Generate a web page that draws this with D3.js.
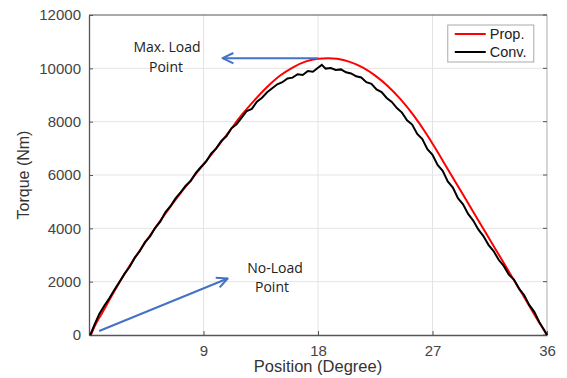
<!DOCTYPE html>
<html>
<head>
<meta charset="utf-8">
<script src="https://cdn.jsdelivr.net/npm/d3@7"></script>
<style>
  body { margin: 0; background: #fff; }
  text { font-family: "Liberation Sans", Arial, sans-serif; }
</style>
</head>
<body>
<div id="chart"></div>
<script>
// data
var xTicks = [9, 18, 27, 36];
var yTicks = [0, 2000, 4000, 6000, 8000, 10000, 12000];

var propDeg = [0.15, 0.5, 1, 2, 3, 4, 5, 6, 7, 8, 9, 10, 11, 12, 13, 14, 15, 16, 17, 18, 18.8,
  19.5, 20.5, 21.5, 22.5, 23.5, 24.5, 25.5, 26.5, 27.2, 28.25, 29.5, 30.5, 31.5, 32.5, 33.5, 34.5, 35.5, 36];
var propVal = [0, 380, 800, 1650, 2450, 3180, 3870, 4550, 5200, 5800, 6400, 7000, 7620, 8250, 8800, 9300, 9720, 10030, 10250, 10360, 10380,
  10357, 10242, 10033, 9728, 9329, 8833, 8243, 7558, 7021, 6181, 5181, 4381, 3581, 2781, 1981, 1181, 381, 0];

var convDeg = [0.1, 0.4, 0.8, 1.2, 1.6, 2.0, 2.4, 2.8, 3.2, 3.6, 4.0, 4.4, 4.8, 5.2, 5.6, 6.0, 6.4, 6.8, 7.2, 7.6,
  8.0, 8.4, 8.8, 9.2, 9.6, 10.0, 10.4, 10.8, 11.2, 11.6, 12.0, 12.4, 12.8, 13.2, 13.6, 14.0, 14.4, 14.8, 15.2, 15.6,
  16.0, 16.4, 16.8, 17.2, 17.6, 18.0, 18.3, 18.6, 19.0, 19.4, 19.8, 20.2, 20.6, 21.0, 21.4, 21.8, 22.2, 22.6, 23.0, 23.4,
  23.8, 24.2, 24.6, 25.0, 25.4, 25.8, 26.2, 26.6, 27.0, 27.4, 27.8, 28.2, 28.6, 29.0, 29.4, 29.8, 30.2, 30.6, 31.0, 31.4,
  31.8, 32.2, 32.6, 33.0, 33.4, 33.8, 34.2, 34.6, 35.0, 35.4, 35.8, 36.0];
var convVal = [0, 350, 780, 1100, 1380, 1700, 2000, 2300, 2560, 2900, 3150, 3480, 3700, 4020, 4250, 4600, 4830, 5120, 5350, 5600,
  5780, 6080, 6300, 6500, 6800, 7000, 7280, 7450, 7750, 7900, 8150, 8400, 8480, 8750, 8900, 9100, 9250, 9400, 9480, 9620,
  9650, 9780, 9750, 9900, 9870, 10020, 10130, 9990, 10010, 9940, 9960, 9850, 9810, 9700, 9660, 9480, 9420, 9210, 9110, 8890,
  8740, 8510, 8340, 8050, 7890, 7540, 7350, 6970, 6760, 6380, 6160, 5760, 5530, 5130, 4900, 4540, 4290, 3960, 3710, 3380,
  3150, 2820, 2590, 2260, 2080, 1740, 1500, 1130, 870, 480, 170, 0];

var width = 567, height = 378;
var margin = { top: 15, right: 20, bottom: 43, left: 89 };
var w = width - margin.left - margin.right;
var h = height - margin.top - margin.bottom;

var svg = d3.select('#chart').append('svg')
  .attr('width', width)
  .attr('height', height);

var g = svg.append('g').attr('transform', 'translate(' + margin.left + ',' + margin.top + ')');

var x = d3.scaleLinear().domain([0, 36]).range([0, w]);
var y = d3.scaleLinear().domain([0, 12000]).range([h, 0]);

// grid
g.selectAll('.gx').data(xTicks.slice(0, 3)).join('line')
  .attr('x1', d => x(d)).attr('x2', d => x(d))
  .attr('y1', 0).attr('y2', h)
  .attr('stroke', '#e4e4e4').attr('stroke-width', 1);
g.selectAll('.gy').data(yTicks.slice(1, 6)).join('line')
  .attr('x1', 0).attr('x2', w)
  .attr('y1', d => y(d)).attr('y2', d => y(d))
  .attr('stroke', '#e4e4e4').attr('stroke-width', 1);

// box: top and right
g.append('line').attr('x1', 0).attr('x2', w).attr('y1', 0).attr('y2', 0)
  .attr('stroke', '#555').attr('stroke-width', 1.2);
g.append('line').attr('x1', w).attr('x2', w).attr('y1', 0).attr('y2', h)
  .attr('stroke', '#bbb').attr('stroke-width', 1.2);
g.selectAll('.rt').data(yTicks).join('line')
  .attr('x1', w - 4).attr('x2', w)
  .attr('y1', d => y(d)).attr('y2', d => y(d))
  .attr('stroke', '#555');

// axes
var xAxis = g.append('g').attr('transform', 'translate(0,' + h + ')')
  .call(d3.axisBottom(x).tickValues(xTicks).tickSizeInner(-4).tickSizeOuter(0).tickPadding(10));
var yAxis = g.append('g')
  .call(d3.axisLeft(y).tickValues(yTicks).tickFormat(d3.format('d')).tickSizeInner(-4).tickSizeOuter(0).tickPadding(8));
[xAxis, yAxis].forEach(function (a) {
  a.select('.domain').attr('stroke', '#555').attr('stroke-width', 1.3);
  a.selectAll('.tick line').attr('stroke', '#555');
  a.selectAll('.tick text').attr('fill', '#444')
    .style('font-size', '15px')
    .style('font-family', '"Liberation Sans", Arial, sans-serif');
});

// axis titles
svg.append('text')
  .attr('x', margin.left + x(18)).attr('y', 372)
  .attr('text-anchor', 'middle')
  .attr('fill', '#333')
  .style('font-size', '16.5px')
  .text('Position (Degree)');
svg.append('text')
  .attr('transform', 'translate(29,' + (margin.top + h / 2) + ') rotate(-90)')
  .attr('text-anchor', 'middle')
  .attr('fill', '#333')
  .style('font-size', '16px')
  .text('Torque (Nm)');

// curves
var propData = propDeg.map((d, i) => [d, propVal[i]]);
var convData = convDeg.map((d, i) => [d, convVal[i]]);

g.append('path').datum(propData)
  .attr('d', d3.line().x(d => x(d[0])).y(d => y(d[1])).curve(d3.curveMonotoneX))
  .attr('fill', 'none').attr('stroke', '#ff0000').attr('stroke-width', 2);
g.append('path').datum(convData)
  .attr('d', d3.line().x(d => x(d[0])).y(d => y(d[1])))
  .attr('fill', 'none').attr('stroke', '#000').attr('stroke-width', 2);

// legend
var leg = g.append('g').attr('transform', 'translate(' + (x(28.2)) + ',10)');
leg.append('rect').attr('width', 86).attr('height', 37)
  .attr('fill', '#fff').attr('stroke', '#aaa').attr('stroke-width', 1);
var legItems = [['Prop.', '#ff0000'], ['Conv.', '#000']];
legItems.forEach(function (it, i) {
  leg.append('line').attr('x1', 7).attr('x2', 38)
    .attr('y1', 9 + i * 18).attr('y2', 9 + i * 18)
    .attr('stroke', it[1]).attr('stroke-width', 2);
  leg.append('text').attr('x', 42).attr('y', 14 + i * 18)
    .attr('fill', '#222')
    .style('font-size', '14.5px')
    .text(it[0]);
});

// annotations
var blue = '#4472c4';
function arrow(x1, y1, x2, y2) {
  var ang = Math.atan2(y2 - y1, x2 - x1);
  var L = 12, a = 0.45;
  g.append('line').attr('x1', x1).attr('y1', y1).attr('x2', x2).attr('y2', y2)
    .attr('stroke', blue).attr('stroke-width', 2);
  g.append('path')
    .attr('d', 'M' + (x2 - L * Math.cos(ang - a)) + ',' + (y2 - L * Math.sin(ang - a)) +
      'L' + x2 + ',' + y2 +
      'L' + (x2 - L * Math.cos(ang + a)) + ',' + (y2 - L * Math.sin(ang + a)))
    .attr('fill', 'none').attr('stroke', blue).attr('stroke-width', 2)
    .attr('stroke-linejoin', 'round');
}
arrow(x(18), y(10380), x(10.5), y(10380));
arrow(x(0.8), y(150), x(10.9), y(2120));

var annFont = '"Open Sans", sans-serif';
[['Max. Load', 167, 52], ['Point', 166, 72], ['No-Load', 275, 273], ['Point', 272, 292]].forEach(function (t) {
  svg.append('text').attr('x', t[1]).attr('y', t[2])
    .attr('text-anchor', 'middle')
    .attr('fill', '#222')
    .style('font-size', '14px')
    .style('font-family', annFont)
    .text(t[0]);
});
</script>
</body>
</html>
